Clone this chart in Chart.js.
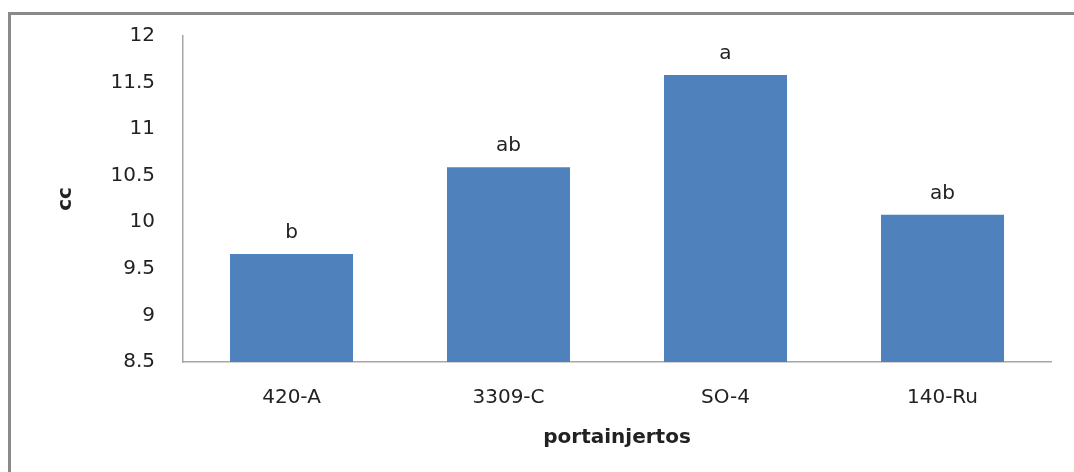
<!DOCTYPE html>
<html>
<head>
<meta charset="utf-8">
<script src="https://cdn.jsdelivr.net/npm/chart.js@4"></script>
<style>
    html, body { margin: 0; padding: 0; background: #fff; }
    #wrap { position: relative; width: 1074px; height: 472px; overflow: hidden; }
    #frame {
        position: absolute; left: 8px; top: 12px; right: -10px; bottom: -10px;
        border-top: 3px solid #8a8a8a; border-left: 3px solid #8a8a8a;
    }
    #chart { position: absolute; left: 0; top: -4px; }
</style>
</head>
<body>
<div id="wrap">
    <div id="frame"></div>
    <canvas id="chart" width="1074" height="476"></canvas>
</div>
<script>
// Data
const categories = ['420-A', '3309-C', 'SO-4', '140-Ru'];
const values = [9.66, 10.59, 11.58, 10.08];
const letters = ['b', 'ab', 'a', 'ab'];

const yMin = 8.5;
const yMax = 12;
const yStep = 0.5;

const axisColor = '#a6a6a6';
const textColor = '#222';

// Significance letters above each bar
const letterPlugin = {
    id: 'letters',
    afterDatasetsDraw(chart) {
        const ctx = chart.ctx;
        const meta = chart.getDatasetMeta(0);
        ctx.save();
        ctx.font = '20px "DejaVu Sans"';
        ctx.fillStyle = textColor;
        ctx.textAlign = 'center';
        ctx.textBaseline = 'alphabetic';
        meta.data.forEach((bar, i) => {
            ctx.fillText(letters[i], bar.x, bar.y - 16);
        });
        ctx.restore();
    }
};

new Chart(document.getElementById('chart').getContext('2d'), {
    type: 'bar',
    data: {
        labels: categories,
        datasets: [{
            data: values,
            backgroundColor: '#4f81bd',
            borderWidth: 0,
            barPercentage: 0.567,
            categoryPercentage: 1
        }]
    },
    options: {
        responsive: false,
        animation: false,
        layout: { padding: { top: 23, right: 23, left: 0, bottom: 0 } },
        plugins: {
            legend: { display: false },
            tooltip: { enabled: false }
        },
        scales: {
            x: {
                grid: { display: false, drawTicks: false },
                border: { display: true, color: axisColor, width: 1.5 },
                ticks: {
                    color: textColor,
                    font: { family: 'DejaVu Sans', size: 20 },
                    padding: 24,
                    maxRotation: 0
                },
                title: {
                    display: true,
                    text: 'portainjertos',
                    color: textColor,
                    font: { family: 'DejaVu Sans', size: 20, weight: 'bold' },
                    padding: { top: 0, bottom: 22 }
                },
                afterFit(scale) { scale.height = 110; }
            },
            y: {
                min: yMin,
                max: yMax,
                grid: { display: false, drawTicks: false },
                border: { display: true, color: axisColor, width: 1.5 },
                ticks: {
                    stepSize: yStep,
                    color: textColor,
                    font: { family: 'DejaVu Sans', size: 20 },
                    padding: 28,
                    callback: (v) => String(v)
                },
                title: {
                    display: true,
                    text: 'cc',
                    color: textColor,
                    font: { family: 'DejaVu Sans', size: 20, weight: 'bold' },
                    padding: { top: 54, bottom: 0 }
                },
                afterFit(scale) { scale.width = 183; }
            }
        }
    },
    plugins: [letterPlugin]
});
</script>
</body>
</html>
